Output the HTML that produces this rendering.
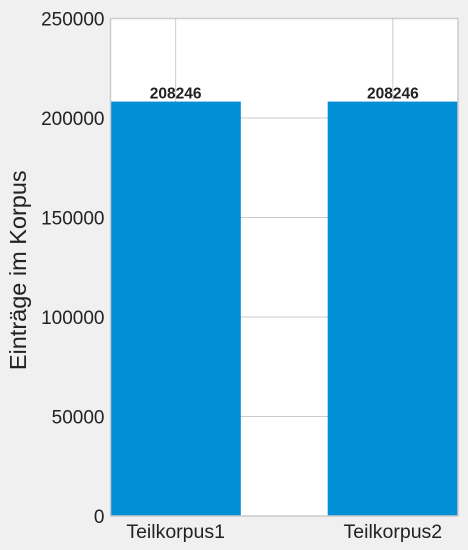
<!DOCTYPE html>
<html><head><meta charset="utf-8"><style>
html,body{margin:0;padding:0;background:#f0f0f0;}
svg{display:block;font-family:"Liberation Sans","DejaVu Sans",sans-serif;}
</style></head><body>
<svg id="chart" width="468" height="550"></svg>
<script>
const categories = ["Teilkorpus1", "Teilkorpus2"];
const values = [208246, 208246];
const yTicks = [0, 50000, 100000, 150000, 200000, 250000];

const NS = "http://www.w3.org/2000/svg";
const svg = document.getElementById("chart");
const L = 110.5, R = 458, T = 18.5, B = 516;
const yMax = 250000;
function y(v){ return B - v / yMax * (B - T); }
const step = (R - L) / (categories.length - 1 + 0.6);
function xc(i){ return L + 0.3 * step + i * step; }
const barW = 0.6 * step;

function el(tag, attrs, parent){
  const e = document.createElementNS(NS, tag);
  for (const k in attrs) e.setAttribute(k, attrs[k]);
  (parent || svg).appendChild(e);
  return e;
}
const plotBg = el("rect", {x:L, y:T, width:R-L, height:B-T, fill:"#ffffff"});



yTicks.forEach(t => {
  const g = el("line", {x1:L, x2:R, y1:y(t), y2:y(t), stroke:"#cbcbcb", "stroke-width":1});
  
  
  const lb = el("text", {x:L-6, y:y(t)+7, "text-anchor":"end", "font-size":"19", fill:"#222"});
  lb.textContent = t;
  
  
});
categories.forEach((c, i) => {
  const g = el("line", {x1:xc(i), x2:xc(i), y1:T, y2:B, stroke:"#cbcbcb", "stroke-width":1});
  
  
});
categories.forEach((c, i) => {
  const b = el("rect", {x:xc(i)-barW/2, y:y(values[i]), width:barW, height:B-y(values[i]), fill:"#008fd5"});
  
  
  const v = el("text", {x:xc(i), y:y(values[i])-3, "text-anchor":"middle", "font-size":"15.5", "font-weight":"bold", fill:"#222"});
  v.textContent = values[i];
  
  
  const lb = el("text", {x:xc(i), y:B+22, "text-anchor":"middle", "font-size":"19.5", fill:"#222"});
  lb.textContent = c;
  
  
});
const frame = el("rect", {x:L, y:T, width:R-L, height:B-T, fill:"none", stroke:"#cbcbcb", "stroke-width":1.5});


const cy = (T+B)/2 + 3;
const yt = el("text", {x:20, y:cy, "text-anchor":"middle", "font-size":"23.5", fill:"#222", transform:"rotate(-90 20 "+cy+")", "dominant-baseline":"middle"});
yt.textContent = "Einträge im Korpus";


</script>
</body></html>
